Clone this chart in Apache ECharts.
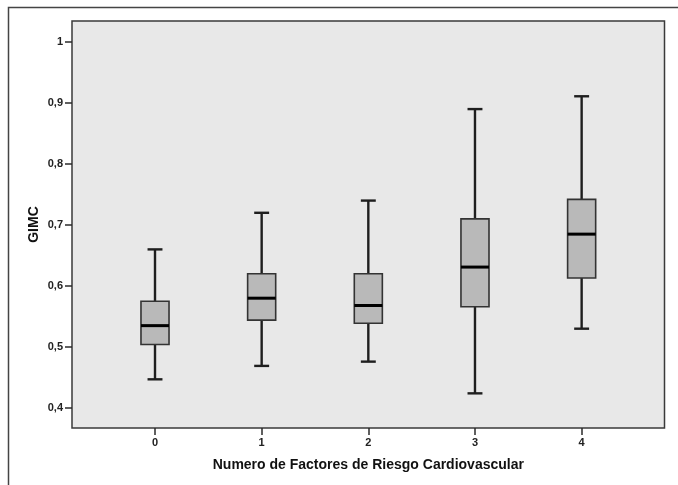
<!DOCTYPE html>
<html>
<head>
<meta charset="utf-8">
<script src="https://cdn.jsdelivr.net/npm/echarts@6/dist/echarts.min.js"></script>
<style>html,body{margin:0;padding:0;background:#fff}#c{width:678px;height:485px}</style>
</head>
<body>
<div id="c"></div>
<script>
const categories = ['0', '1', '2', '3', '4'];
const lowerWhisker = [0.447, 0.469, 0.476, 0.424, 0.530];
const q1 = [0.504, 0.544, 0.539, 0.566, 0.613];
const median = [0.535, 0.580, 0.568, 0.631, 0.685];
const q3 = [0.575, 0.620, 0.620, 0.710, 0.742];
const upperWhisker = [0.660, 0.720, 0.740, 0.890, 0.911];
const yTicks = [0.4, 0.5, 0.6, 0.7, 0.8, 0.9, 1];
const xTitle = 'Numero de Factores de Riesgo Cardiovascular';
const yTitle = 'GIMC';

const boxData = categories.map((c, i) => [i, lowerWhisker[i], q1[i], median[i], q3[i], upperWhisker[i]]);
const FONT = '"Liberation Sans", Arial, sans-serif';
const yMin = 0.3672, yMax = 1.0344;
const dark = '#2b2b2b';

const chart = echarts.init(document.getElementById('c'), null, {renderer: 'canvas'});
chart.setOption({
  animation: false,
  graphic: [{
    type: 'rect', left: 6, top: 5, z: -10, silent: true,
    shape: {width: 700, height: 500},
    style: {fill: 'none', stroke: '#444', lineWidth: 1.5}
  }],
  grid: [
    {left: 72, top: 21, width: 592.5, height: 407, show: true, backgroundColor: '#e8e8e8', borderColor: '#3a3a3a', borderWidth: 1.5},
    {left: 101.67, top: 21, width: 533.3, height: 407}
  ],
  xAxis: [
    {gridIndex: 0, type: 'value', min: 0, max: 1, show: false},
    {gridIndex: 1, type: 'category', data: categories,
     axisLine: {show: false},
     axisTick: {show: true, alignWithLabel: true, length: 7, lineStyle: {color: dark, width: 1.5}},
     axisLabel: {margin: 9, color: '#222', fontFamily: FONT, fontWeight: 'bold', fontSize: 11},
     name: xTitle, nameLocation: 'middle', nameGap: 30, nameMoveOverlap: false,
     nameTextStyle: {color: '#111', fontFamily: FONT, fontWeight: 'bold', fontSize: 14}}
  ],
  yAxis: [
    {gridIndex: 0, type: 'value', min: yMin, max: yMax,
     axisLine: {show: false},
     splitLine: {show: false},
     axisTick: {show: true, length: 7, customValues: yTicks, lineStyle: {color: dark, width: 1.5}},
     axisLabel: {margin: 9, customValues: yTicks, color: '#222', fontFamily: FONT, fontWeight: 'bold', fontSize: 11,
       formatter: v => String(Math.round(v * 10) / 10).replace('.', ',')},
     name: yTitle, nameLocation: 'middle', nameGap: 31, nameRotate: 90, nameMoveOverlap: false,
     nameTextStyle: {color: '#111', fontFamily: FONT, fontWeight: 'bold', fontSize: 14}},
    {gridIndex: 1, type: 'value', min: yMin, max: yMax, show: false, splitLine: {show: false}}
  ],
  series: [{
    type: 'custom',
    xAxisIndex: 1, yAxisIndex: 1,
    data: boxData,
    encode: {x: 0, y: [1, 2, 3, 4, 5]},
    renderItem: function (params, api) {
      const x = api.value(0);
      const band = api.size([1, 0])[0];
      const bw = band * 0.263;
      const cw = band * 0.14;
      const pLo = api.coord([x, api.value(1)]);
      const pQ1 = api.coord([x, api.value(2)]);
      const pMed = api.coord([x, api.value(3)]);
      const pQ3 = api.coord([x, api.value(4)]);
      const pHi = api.coord([x, api.value(5)]);
      const cx = pMed[0];
      const wStyle = {stroke: '#1e1e1e', lineWidth: 2.4};
      return {
        type: 'group',
        children: [
          {type: 'line', shape: {x1: cx, y1: pHi[1], x2: cx, y2: pQ3[1]}, style: wStyle},
          {type: 'line', shape: {x1: cx, y1: pQ1[1], x2: cx, y2: pLo[1]}, style: wStyle},
          {type: 'line', shape: {x1: cx - cw / 2, y1: pHi[1], x2: cx + cw / 2, y2: pHi[1]}, style: wStyle},
          {type: 'line', shape: {x1: cx - cw / 2, y1: pLo[1], x2: cx + cw / 2, y2: pLo[1]}, style: wStyle},
          {type: 'rect', shape: {x: cx - bw / 2, y: pQ3[1], width: bw, height: pQ1[1] - pQ3[1]},
           style: {fill: '#b9b9b9', stroke: '#333', lineWidth: 1.6}},
          {type: 'line', shape: {x1: cx - bw / 2, y1: pMed[1], x2: cx + bw / 2, y2: pMed[1]},
           style: {stroke: '#000', lineWidth: 3}}
        ]
      };
    }
  }]
});
</script>
</body>
</html>
